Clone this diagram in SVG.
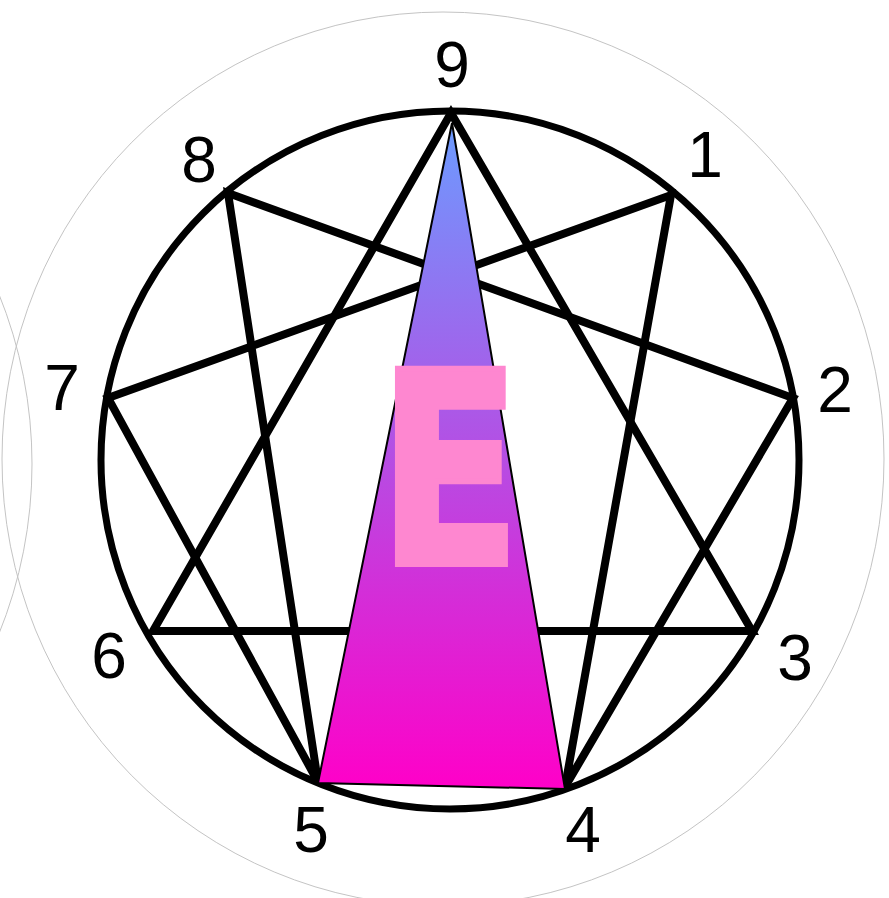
<svg xmlns="http://www.w3.org/2000/svg" width="889" height="898" viewBox="0 0 889 898">
  <style>
    .lbl { font-family: "Liberation Sans", Arial, sans-serif; font-size: 64px; fill: #000; text-anchor: middle; }
    .ln { stroke: #000; stroke-width: 8; fill: none; stroke-linejoin: miter; }
    .faint { fill: none; stroke: #c4c4c4; stroke-width: 1; }
  </style>
  <defs>
    <linearGradient id="tri" x1="0" y1="120" x2="0" y2="790" gradientUnits="userSpaceOnUse">
      <stop offset="0" stop-color="#6b9cff"/>
      <stop offset="1" stop-color="#ff00c8"/>
    </linearGradient>
  </defs>
  <rect width="889" height="898" fill="#fff"/>
  <g id="background-circles">
    <ellipse class="faint" cx="443" cy="459" rx="441" ry="447"/>
    <ellipse class="faint" cx="-409" cy="464" rx="441" ry="447"/>
  </g>
  <circle id="main-circle" cx="450" cy="460" r="349" fill="none" stroke="#000" stroke-width="7"/>
  <g id="connectors">
    <polygon class="ln" points="451,113 752,631 153,631"/>
    <polygon class="ln" points="671,195 565,787 793,398 228,193 318,782 108,398"/>
  </g>
  <g id="center-triangle">
    <polygon points="452,123 565,789 318,783" fill="url(#tri)" stroke="#000" stroke-width="2" stroke-linejoin="miter"/>
  </g>
  <g id="center-letter">
    <text x="0" y="0" transform="translate(449.5,564) scale(0.78,1)" font-family="'DejaVu Sans', sans-serif" font-weight="bold" font-size="268" fill="#fe87d0" stroke="#fe87d0" stroke-width="6" stroke-linejoin="miter" text-anchor="middle">E</text>
  </g>
  <g id="node-9"><text class="lbl" x="452" y="87">9</text></g>
  <g id="node-1"><text class="lbl" x="705" y="177">1</text></g>
  <g id="node-2"><text class="lbl" x="835" y="412">2</text></g>
  <g id="node-3"><text class="lbl" x="795" y="680">3</text></g>
  <g id="node-4"><text class="lbl" x="583" y="852">4</text></g>
  <g id="node-5"><text class="lbl" x="311" y="852">5</text></g>
  <g id="node-6"><text class="lbl" x="109" y="678">6</text></g>
  <g id="node-7"><text class="lbl" x="62" y="410">7</text></g>
  <g id="node-8"><text class="lbl" x="199" y="182">8</text></g>
</svg>
